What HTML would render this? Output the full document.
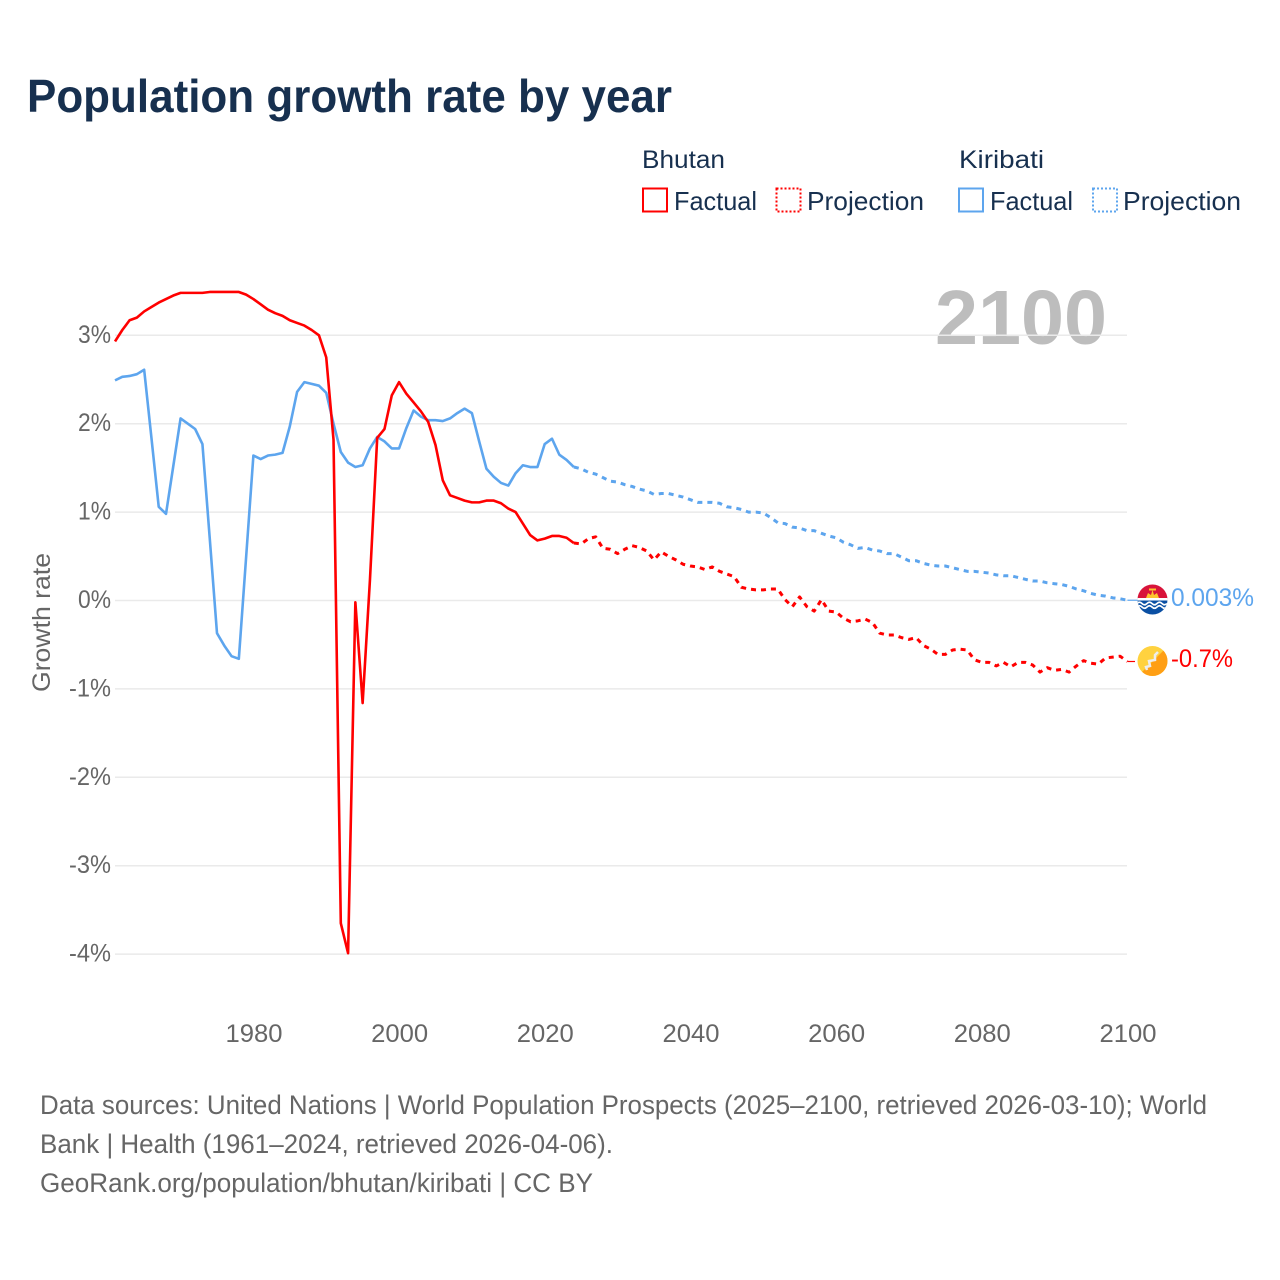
<!DOCTYPE html>
<html lang="en">
<head>
<meta charset="utf-8">
<title>Population growth rate by year</title>
<style>
html,body{margin:0;padding:0;background:#fff;width:1280px;height:1280px;overflow:hidden}
svg{display:block}
text{font-family:"Liberation Sans",sans-serif}
</style>
</head>
<body>
<svg id="chart" xmlns="http://www.w3.org/2000/svg" width="1280" height="1280" viewBox="0 0 1280 1280">
  <rect width="1280" height="1280" fill="#fff"/>
  <text x="27" y="112" font-size="46" font-weight="700" fill="#17304f" textLength="645" lengthAdjust="spacingAndGlyphs">Population growth rate by year</text>

  <g>
    <text x="642" y="168" font-size="25" fill="#17304f" textLength="83" lengthAdjust="spacingAndGlyphs">Bhutan</text>
    <text x="959" y="168" font-size="25" fill="#17304f" textLength="85" lengthAdjust="spacingAndGlyphs">Kiribati</text>
    <rect x="643" y="188.5" width="24" height="23" fill="none" stroke="#ff0000" stroke-width="2"/>
    <text x="674" y="210" font-size="26" fill="#17304f" textLength="83" lengthAdjust="spacingAndGlyphs">Factual</text>
    <rect x="776.5" y="188.5" width="24" height="23" fill="none" stroke="#ff0000" stroke-width="2" stroke-dasharray="2 2"/>
    <text x="807" y="210" font-size="26" fill="#17304f" textLength="117" lengthAdjust="spacingAndGlyphs">Projection</text>
    <rect x="959" y="188.5" width="24" height="23" fill="none" stroke="#5da5ee" stroke-width="2"/>
    <text x="990" y="210" font-size="26" fill="#17304f" textLength="83" lengthAdjust="spacingAndGlyphs">Factual</text>
    <rect x="1093" y="188.5" width="24" height="23" fill="none" stroke="#5da5ee" stroke-width="2" stroke-dasharray="2 2"/>
    <text x="1123" y="210" font-size="26" fill="#17304f" textLength="118" lengthAdjust="spacingAndGlyphs">Projection</text>
  </g>

  <text x="935" y="344" font-size="77" font-weight="700" fill="#bdbdbd" textLength="172" lengthAdjust="spacingAndGlyphs">2100</text>
  <text transform="translate(50 622.5) rotate(-90)" text-anchor="middle" font-size="25" fill="#666666" textLength="139" lengthAdjust="spacingAndGlyphs">Growth rate</text>

  <g id="grid"></g>
  <g id="yticks"></g>
  <g id="xticks"></g>
  <g id="series"></g>

  <defs>
    <clipPath id="clip-kiribati"><circle cx="1152.5" cy="599.5" r="15"/></clipPath>
    <clipPath id="clip-bhutan"><circle cx="1152.5" cy="661" r="15"/></clipPath>
  </defs>
  <g clip-path="url(#clip-kiribati)">
    <rect x="1137" y="584" width="31" height="16" fill="#d8143a"/>
    <rect x="1137" y="598" width="31" height="17" fill="#0a4fa3"/>
    <rect x="1137" y="598" width="31" height="2.5" fill="#ffffff"/>
    <path d="M1137 603.5 q2.5 -2.5 5 0 t5 0 t5 0 t5 0 t5 0 t5 0" fill="none" stroke="#ffffff" stroke-width="1.6"/>
    <path d="M1137 607 q2.5 -2.5 5 0 t5 0 t5 0 t5 0 t5 0 t5 0" fill="none" stroke="#ffffff" stroke-width="1.6"/>
    <path d="M1146 598 L1148 593 L1151 595 L1152.5 590 L1154 595 L1157 593 L1159 598 Z" fill="#fdc42e"/>
    <rect x="1149" y="588.5" width="7" height="2" fill="#fdc42e"/>
  </g>
  <g clip-path="url(#clip-bhutan)">
    <rect x="1137" y="646" width="31" height="31" fill="#ffd23f"/>
    <path d="M1168 646 L1168 677 L1137 677 Z" fill="#ff9f14"/>
    <path d="M1147 670 L1146 667 L1150 666 L1149 661 L1155 660 L1155 655 L1158 652" fill="none" stroke="#eeeeee" stroke-width="2.5"/>
  </g>

  <text x="1171" y="606" font-size="25" fill="#5da5ee" textLength="83" lengthAdjust="spacingAndGlyphs">0.003%</text>
  <text x="1171" y="667" font-size="25" fill="#ff0000" textLength="62" lengthAdjust="spacingAndGlyphs">-0.7%</text>

  <g font-size="26.5" fill="#666666">
    <text x="40" y="1114" textLength="1167" lengthAdjust="spacingAndGlyphs">Data sources: United Nations | World Population Prospects (2025–2100, retrieved 2026-03-10); World</text>
    <text x="40" y="1153" textLength="573" lengthAdjust="spacingAndGlyphs">Bank | Health (1961–2024, retrieved 2026-04-06).</text>
    <text x="40" y="1192" textLength="553" lengthAdjust="spacingAndGlyphs">GeoRank.org/population/bhutan/kiribati | CC BY</text>
  </g>
</svg>
<script>
const xTickYears = [1980, 2000, 2020, 2040, 2060, 2080, 2100];
const yTickValues = [3, 2, 1, 0, -1, -2, -3, -4];
const factualStartYear = 1961;
const projectionStartYear = 2024;
const bhutanFactual = [2.93,3.06,3.17,3.20,3.27,3.32,3.37,3.41,3.45,3.48,3.48,3.48,3.48,3.49,3.49,3.49,3.49,3.49,3.46,3.41,3.35,3.29,3.25,3.22,3.17,3.14,3.11,3.06,3.00,2.75,1.82,-3.65,-3.99,-0.02,-1.16,0.23,1.84,1.94,2.32,2.47,2.34,2.24,2.14,2.02,1.76,1.36,1.19,1.16,1.13,1.11,1.11,1.13,1.13,1.10,1.04,1.00,0.87,0.74,0.68,0.70,0.73,0.73,0.71,0.65];
const kiribatiFactual = [2.49,2.53,2.54,2.56,2.61,1.84,1.06,0.98,1.52,2.06,2.00,1.94,1.77,0.71,-0.37,-0.51,-0.63,-0.66,0.49,1.64,1.60,1.64,1.65,1.67,1.97,2.36,2.47,2.45,2.43,2.35,2.00,1.68,1.56,1.51,1.53,1.72,1.85,1.80,1.72,1.72,1.95,2.15,2.08,2.04,2.04,2.03,2.06,2.12,2.17,2.12,1.80,1.49,1.40,1.33,1.30,1.44,1.53,1.51,1.51,1.77,1.83,1.65,1.59,1.51];
const bhutanProjection = [0.65,0.64,0.70,0.72,0.59,0.58,0.53,0.58,0.62,0.60,0.56,0.46,0.55,0.50,0.46,0.41,0.39,0.38,0.35,0.38,0.33,0.30,0.27,0.15,0.13,0.12,0.12,0.13,0.13,0.01,-0.07,0.04,-0.07,-0.12,0.01,-0.12,-0.13,-0.20,-0.24,-0.23,-0.21,-0.25,-0.37,-0.39,-0.39,-0.42,-0.44,-0.42,-0.51,-0.55,-0.61,-0.61,-0.56,-0.55,-0.56,-0.67,-0.70,-0.70,-0.74,-0.70,-0.75,-0.70,-0.70,-0.73,-0.81,-0.76,-0.79,-0.78,-0.81,-0.74,-0.68,-0.71,-0.72,-0.65,-0.64,-0.63,-0.69];
const kiribatiProjection = [1.51,1.49,1.45,1.43,1.39,1.35,1.34,1.31,1.29,1.26,1.24,1.20,1.21,1.21,1.19,1.17,1.14,1.11,1.11,1.11,1.10,1.06,1.05,1.03,1.00,1.00,0.99,0.94,0.88,0.87,0.83,0.82,0.79,0.79,0.76,0.73,0.71,0.66,0.63,0.59,0.60,0.57,0.56,0.53,0.53,0.49,0.45,0.45,0.42,0.40,0.39,0.39,0.37,0.35,0.33,0.33,0.32,0.31,0.29,0.28,0.28,0.26,0.24,0.22,0.22,0.20,0.19,0.18,0.16,0.13,0.11,0.08,0.06,0.05,0.03,0.02,0.003];

const SVG_NS = 'http://www.w3.org/2000/svg';
function xScale(year) { return 253.4 + (year - 1980) * 7.283; }
function yScale(value) { return 600.5 - value * 88.4; }
function linePath(values, startYear) {
  return values.map(function (v, i) {
    return (i ? 'L' : 'M') + xScale(startYear + i).toFixed(2) + ' ' + yScale(v).toFixed(2);
  }).join(' ');
}

const gridGroup = document.getElementById('grid');
const yTickGroup = document.getElementById('yticks');
const xTickGroup = document.getElementById('xticks');
const seriesGroup = document.getElementById('series');

yTickValues.forEach(function (v) {
  const line = document.createElementNS(SVG_NS, 'line');
  
  
  line.setAttribute('x1', 115);
  line.setAttribute('x2', 1127);
  line.setAttribute('y1', yScale(v));
  line.setAttribute('y2', yScale(v));
  line.setAttribute('stroke', '#eaeaea');
  line.setAttribute('stroke-width', '1.5');
  gridGroup.appendChild(line);

  const label = document.createElementNS(SVG_NS, 'text');
  
  
  label.setAttribute('x', 111);
  label.setAttribute('y', yScale(v) + 7.5);
  label.setAttribute('text-anchor', 'end');
  label.setAttribute('font-size', '25');
  label.setAttribute('fill', '#666666');
  label.setAttribute('textLength', v < 0 ? 42 : 33);
  label.setAttribute('lengthAdjust', 'spacingAndGlyphs');
  label.textContent = v + '%';
  yTickGroup.appendChild(label);
});

xTickYears.forEach(function (year) {
  const label = document.createElementNS(SVG_NS, 'text');
  
  
  label.setAttribute('x', xScale(year) + 0.6);
  label.setAttribute('y', 1042);
  label.setAttribute('text-anchor', 'middle');
  label.setAttribute('font-size', '25');
  label.setAttribute('fill', '#666666');
  label.setAttribute('textLength', 57);
  label.setAttribute('lengthAdjust', 'spacingAndGlyphs');
  label.textContent = year;
  xTickGroup.appendChild(label);
});

function addSeries(name, values, startYear, color, dash, width) {
  const path = document.createElementNS(SVG_NS, 'path');
  
  
  path.setAttribute('d', linePath(values, startYear));
  path.setAttribute('fill', 'none');
  path.setAttribute('stroke', color);
  path.setAttribute('stroke-width', width);
  path.setAttribute('stroke-linejoin', 'round');
  if (dash) path.setAttribute('stroke-dasharray', dash);
  seriesGroup.appendChild(path);
}
addSeries('kiribati-factual-line', kiribatiFactual, factualStartYear, '#5da5ee', '', '2.6');
addSeries('bhutan-factual-line', bhutanFactual, factualStartYear, '#ff0000', '', '2.6');
addSeries('kiribati-projection-line', kiribatiProjection, projectionStartYear, '#5da5ee', '5 5', '3');
addSeries('bhutan-projection-line', bhutanProjection, projectionStartYear, '#ff0000', '5 5', '3');

function addConnector(name, value, color, x2) {
  const line = document.createElementNS(SVG_NS, 'line');
  
  
  line.setAttribute('x1', xScale(2100));
  line.setAttribute('x2', x2);
  line.setAttribute('y1', yScale(value));
  line.setAttribute('y2', yScale(value));
  line.setAttribute('stroke', color);
  line.setAttribute('stroke-width', '1.2');
  seriesGroup.appendChild(line);
}
addConnector('kiribati-label-connector', kiribatiProjection[kiribatiProjection.length - 1], '#5da5ee', 1138);
addConnector('bhutan-label-connector', bhutanProjection[bhutanProjection.length - 1], '#ff0000', 1135);
</script>
</body>
</html>
